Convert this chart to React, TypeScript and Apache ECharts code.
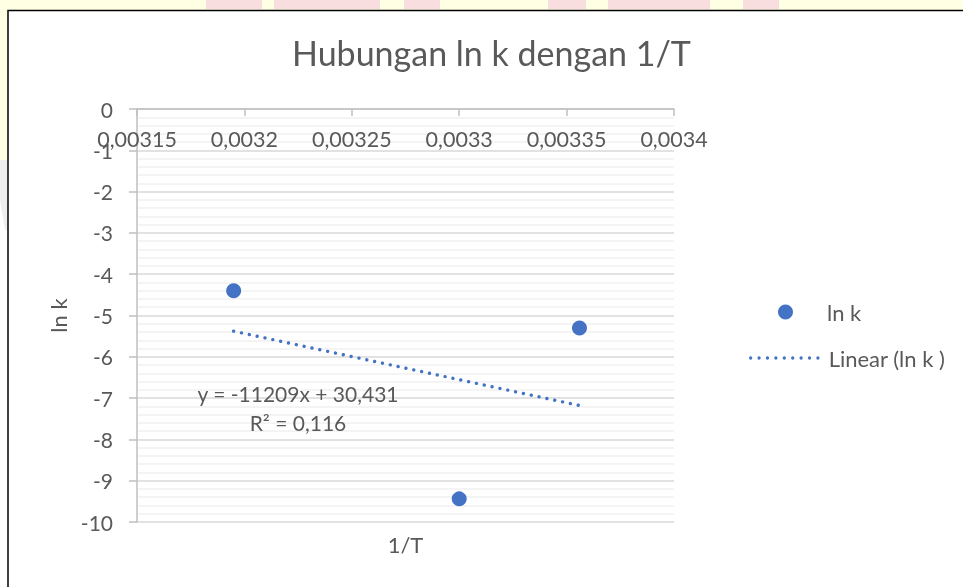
import React, { useEffect, useRef } from "react";
import * as echarts from "echarts";

// Data
const invT: number[] = [0.003195, 0.0033, 0.003356];
const lnK: number[] = [-4.4, -9.44, -5.3];
const trendX: number[] = [0.003195, 0.003356];
const trendY: number[] = [-5.38, -7.18];
const xMin = 0.00315;
const xMax = 0.0034;
const xStep = 0.00005;
const yMin = -10;
const yMax = 0;
const yStep = 1;
const titleText = "Hubungan ln k dengan 1/T";
const seriesName = "ln k";
const trendName = "Linear (ln k )";
const equationLines = ["y = -11209x + 30,431", "R² = 0,116"];

const FONT = "Lato, 'Open Sans', sans-serif";
const TXT = "#595959";
const BLUE = "#4472C4";

const pinkBlocks: [number, number][] = [
  [206, 262],
  [274, 380],
  [404, 440],
  [548, 586],
  [608, 710],
  [743, 779],
];

export default function App() {
  const ref = useRef<HTMLDivElement>(null);
  useEffect(() => {
    if (!ref.current) return;
    const chart = echarts.init(ref.current, undefined, { renderer: "svg" });
    const fmt = (v: number) => String(+v.toFixed(5)).replace(".", ",");
    const bg: any[] = [
      { type: "rect", shape: { x: 0, y: 0, width: 963, height: 587 }, style: { fill: "#FFFFFF" }, z: -100, silent: true },
      { type: "rect", shape: { x: 0, y: 0, width: 963, height: 10 }, style: { fill: "#FFFFE3" }, z: -99, silent: true },
      { type: "polygon", shape: { points: [[0, 0], [8, 0], [8, 160], [0, 160]] }, style: { fill: "#FFFFE3" }, z: -99, silent: true },
      { type: "polygon", shape: { points: [[0, 160], [8, 160], [8, 230], [5, 230], [0, 200]] }, style: { fill: "#EEEEEE" }, z: -99, silent: true },
      ...pinkBlocks.map(([a, b]) => ({
        type: "rect",
        shape: { x: a, y: 0, width: b - a, height: 9 },
        style: { fill: "#F8DEDE" },
        z: -98,
        silent: true,
      })),
      { type: "rect", shape: { x: 8, y: 10.5, width: 1000, height: 620 }, style: { fill: "#FFFFFF", stroke: "#000000", lineWidth: 1.5 }, z: -97, silent: true },
      {
        type: "text",
        x: 298,
        y: 393,
        style: { text: equationLines[0], fill: TXT, font: `21px ${FONT}`, align: "center", verticalAlign: "middle" },
        z: 100,
      },
      {
        type: "text",
        x: 298,
        y: 422,
        style: { text: equationLines[1], fill: TXT, font: `21px ${FONT}`, align: "center", verticalAlign: "middle" },
        z: 100,
      },
    ];
    const option: any = {
      animation: false,
      backgroundColor: "transparent",
      textStyle: { fontFamily: FONT },
      title: {
        text: titleText,
        left: 292,
        top: 35,
        padding: 0,
        textStyle: { fontSize: 34, fontWeight: "normal", color: TXT, fontFamily: FONT },
      },
      grid: { left: 137, right: 289, top: 109, bottom: 65, containLabel: false, outerBoundsMode: "none" },
      legend: [
        {
          data: [seriesName],
          left: 778,
          top: 301,
          padding: 0,
          itemWidth: 15,
          itemHeight: 15,
          icon: "circle",
          itemStyle: { opacity: 1 },
          textStyle: { fontSize: 22, color: TXT, fontFamily: FONT, padding: [0, 0, 0, 29] },
        },
        {
          data: [{ name: trendName, itemStyle: { opacity: 0 } }],
          left: 749,
          top: 347,
          padding: 0,
          itemWidth: 70,
          itemHeight: 14,
          lineStyle: { color: BLUE, width: 3.3, type: [0.01, 8.4], cap: "round", opacity: 1 },
          textStyle: { fontSize: 22, color: TXT, fontFamily: FONT, padding: [0, 0, 0, 3] },
        },
      ],
      xAxis: [
        {
          type: "value",
          position: "top",
          min: xMin,
          max: xMax,
          interval: xStep,
          axisLine: { show: true, onZero: false, lineStyle: { color: "#BFBFBF", width: 1.5 } },
          axisTick: { show: true, inside: true, length: 7, lineStyle: { color: "#BFBFBF", width: 1.5 } },
          axisLabel: { inside: true, margin: 19, fontSize: 21.5, color: TXT, fontFamily: FONT, formatter: fmt },
          splitLine: { show: false },
        },
        {
          type: "value",
          position: "bottom",
          min: xMin,
          max: xMax,
          interval: xStep,
          axisLine: { show: false },
          axisTick: { show: false },
          axisLabel: { show: false },
          splitLine: { show: false },
          name: "1/T",
          nameLocation: "middle",
          nameGap: 11,
          nameTextStyle: { fontSize: 22, color: TXT, fontFamily: FONT },
        },
      ],
      yAxis: {
        type: "value",
        min: yMin,
        max: yMax,
        interval: yStep,
        axisLine: { show: true, onZero: false, lineStyle: { color: "#BFBFBF", width: 1.5 } },
        axisTick: { show: true, inside: false, length: 8, lineStyle: { color: "#BFBFBF", width: 1.5 } },
        axisLabel: { margin: 24, fontSize: 21, color: TXT, fontFamily: FONT },
        splitLine: { show: true, lineStyle: { color: "#D9D9D9", width: 1.5 } },
        minorTick: { show: false, splitNumber: 5 },
        minorSplitLine: { show: true, lineStyle: { color: "#F0F0F0", width: 1.5 } },
        name: "ln k",
        nameLocation: "middle",
        nameGap: 67,
        nameRotate: 90,
        nameTextStyle: { fontSize: 22, color: TXT, fontFamily: FONT },
      },
      series: [
        {
          name: seriesName,
          type: "scatter",
          symbol: "circle",
          symbolSize: 15,
          itemStyle: { color: BLUE, opacity: 1 },
          data: invT.map((x, i) => [x, lnK[i]]),
          z: 3,
        },
        {
          name: trendName,
          type: "line",
          symbol: "none",
          showSymbol: false,
          itemStyle: { color: BLUE },
          lineStyle: { color: BLUE, width: 3.4, type: [0.01, 8], cap: "round" },
          data: trendX.map((x, i) => [x, trendY[i]]),
          z: 2,
        },
      ],
      graphic: { elements: bg },
    };
    chart.setOption(option);
    return () => chart.dispose();
  }, []);
  return (
    <div
      ref={ref}
      style={{ position: "fixed", left: 0, top: 0, width: 963, height: 587 }}
    />
  );
}
